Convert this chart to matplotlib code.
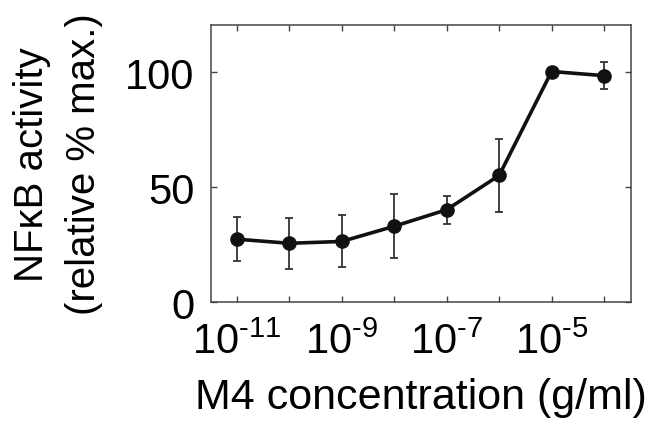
import numpy as np
import matplotlib
matplotlib.use('Agg')
import matplotlib.pyplot as plt
from matplotlib.ticker import FixedLocator, FixedFormatter, NullLocator

plt.rcParams['font.family'] = ['Liberation Sans', 'DejaVu Sans']
plt.rcParams['mathtext.fontset'] = 'custom'
plt.rcParams['mathtext.rm'] = 'Liberation Sans'
plt.rcParams['mathtext.it'] = 'Liberation Sans'

# data
conc = [1e-11, 1e-10, 1e-9, 1e-8, 1e-7, 1e-6, 1e-5, 1e-4]
activity = [27.4, 25.6, 26.4, 33.0, 40.2, 55.1, 100.3, 98.5]
err = [9.5, 11.0, 11.3, 13.9, 6.0, 15.7, 0.0, 6.0]
tick_pos = [1e-11, 1e-10, 1e-9, 1e-8, 1e-7, 1e-6, 1e-5, 1e-4]
tick_labels = [r'$10^{\text{-}11}$', '', r'$10^{\text{-}9}$', '', r'$10^{\text{-}7}$', '',
               r'$10^{\text{-}5}$', '']
y_ticks = [0, 50, 100]

fig = plt.figure(figsize=(6.64, 4.27), dpi=100)
ax = fig.add_axes([0.318, 0.290, 0.632, 0.649])

ax.errorbar(conc, activity, yerr=err, color='#111111', linewidth=2.6,
            marker='o', markersize=9.5, ecolor='#333333', elinewidth=1.3,
            capsize=3, capthick=1.3, zorder=3)

ax.set_xscale('log')
ax.set_xlim(10 ** -11.49, 10 ** -3.49)
ax.set_ylim(0, 120.5)
ax.xaxis.set_major_locator(FixedLocator(tick_pos))
ax.xaxis.set_major_formatter(FixedFormatter(tick_labels))
ax.xaxis.set_minor_locator(NullLocator())
ax.set_yticks(y_ticks)

ax.tick_params(direction='in', length=4, width=1, color='#444444',
               top=True, right=True, labelsize=30)
ax.tick_params(axis='y', pad=12)
ax.tick_params(axis='x', pad=14)
for s in ax.spines.values():
    s.set_color('#444444')
    s.set_linewidth(1.1)

ax.set_xlabel('M4 concentration (g/ml)', fontsize=31, labelpad=11)
ax.set_ylabel('NF\u03baB activity\n(relative % max.)', fontsize=29, labelpad=16,
              linespacing=1.45)

fig.savefig('out.png', dpi=100)
